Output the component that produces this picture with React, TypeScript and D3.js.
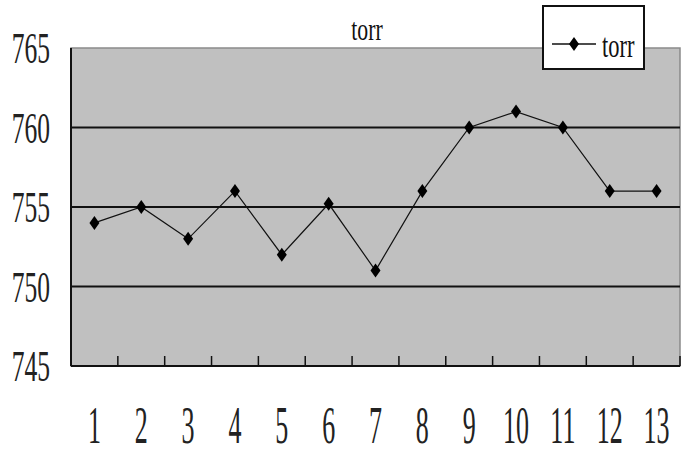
import * as d3 from 'd3'

const W = 700
const H = 464
const categories = ['1', '2', '3', '4', '5', '6', '7', '8', '9', '10', '11', '12', '13']
const torr = [754, 755, 753, 756, 752, 755.2, 751, 756, 760, 761, 760, 756, 756]
const yTicks = [745, 750, 755, 760, 765]
const seriesName = 'torr'

const PLOT = { left: 71, right: 680, top: 48, bottom: 366 }
const FONT = '"Liberation Serif", "DejaVu Serif", serif'
const SX = 0.58

function diamond(cx: number, cy: number) {
  return `M${cx},${cy - 7}L${cx + 5},${cy}L${cx},${cy + 7}L${cx - 5},${cy}Z`
}

export default function App() {
  const x = d3.scaleBand<string>().domain(categories).range([PLOT.left, PLOT.right])
  const y = d3.scaleLinear().domain([745, 765]).range([PLOT.bottom, PLOT.top])
  const cx = (c: string) => (x(c) ?? 0) + x.bandwidth() / 2

  const line = d3.line<number>()
    .x((_, i) => cx(categories[i]))
    .y(d => y(d))

  // category separators (ticks between categories, plus the right end)
  const tickXs = categories.slice(1).map(c => x(c) ?? 0).concat([PLOT.right])

  return (
    <div style={{ position: 'fixed', left: 0, top: 0 }}>
      <svg width={W} height={H} style={{ display: 'block', background: '#fff' }}>
        <rect x={PLOT.left} y={PLOT.top} width={PLOT.right - PLOT.left} height={PLOT.bottom - PLOT.top}
          fill="#c0c0c0" stroke="#8a8a8a" strokeWidth={1.5} />

        {/* gridlines */}
        {yTicks.slice(1, -1).map(t => (
          <line key={t} x1={PLOT.left} x2={PLOT.right} y1={y(t)} y2={y(t)} stroke="#111" strokeWidth={2} />
        ))}

        {/* axes */}
        <line x1={PLOT.left} x2={PLOT.left} y1={PLOT.top} y2={PLOT.bottom} stroke="#111" strokeWidth={2} />
        <line x1={PLOT.left} x2={PLOT.right} y1={PLOT.bottom} y2={PLOT.bottom} stroke="#111" strokeWidth={2} />
        {tickXs.map((tx, i) => (
          <line key={i} x1={tx} x2={tx} y1={PLOT.bottom} y2={PLOT.bottom - 10} stroke="#111" strokeWidth={1.5} />
        ))}

        {/* y labels */}
        {yTicks.map(t => (
          <text key={t} transform={`translate(50,${y(t) + 15}) scale(${SX},1)`} textAnchor="end"
            fontFamily={FONT} fontSize={44} fill="#222">{t}</text>
        ))}

        {/* x labels */}
        {categories.map(c => (
          <text key={c} transform={`translate(${cx(c)},${443}) scale(0.5,1)`} textAnchor="middle"
            fontFamily={FONT} fontSize={52} fill="#222">{c}</text>
        ))}

        {/* series */}
        <path d={line(torr) ?? ''} fill="none" stroke="#111" strokeWidth={1.2} />
        {torr.map((v, i) => (
          <path key={i} d={diamond(cx(categories[i]), y(v))} fill="#000" />
        ))}

        {/* title */}
        <text transform={`translate(367,40) scale(0.68,1)`} textAnchor="middle" fontFamily={FONT} fontSize={32} fill="#111">
          {seriesName}
        </text>

        {/* legend */}
        <rect x={543} y={6} width={101} height={63} fill="#fff" stroke="#111" strokeWidth={2} />
        <line x1={552} x2={596} y1={44} y2={44} stroke="#111" strokeWidth={1.5} />
        <path d={diamond(574, 44)} fill="#000" />
        <text transform={`translate(602,57) scale(0.68,1)`} fontFamily={FONT} fontSize={33} fill="#111">
          {seriesName}
        </text>
      </svg>
    </div>
  )
}
